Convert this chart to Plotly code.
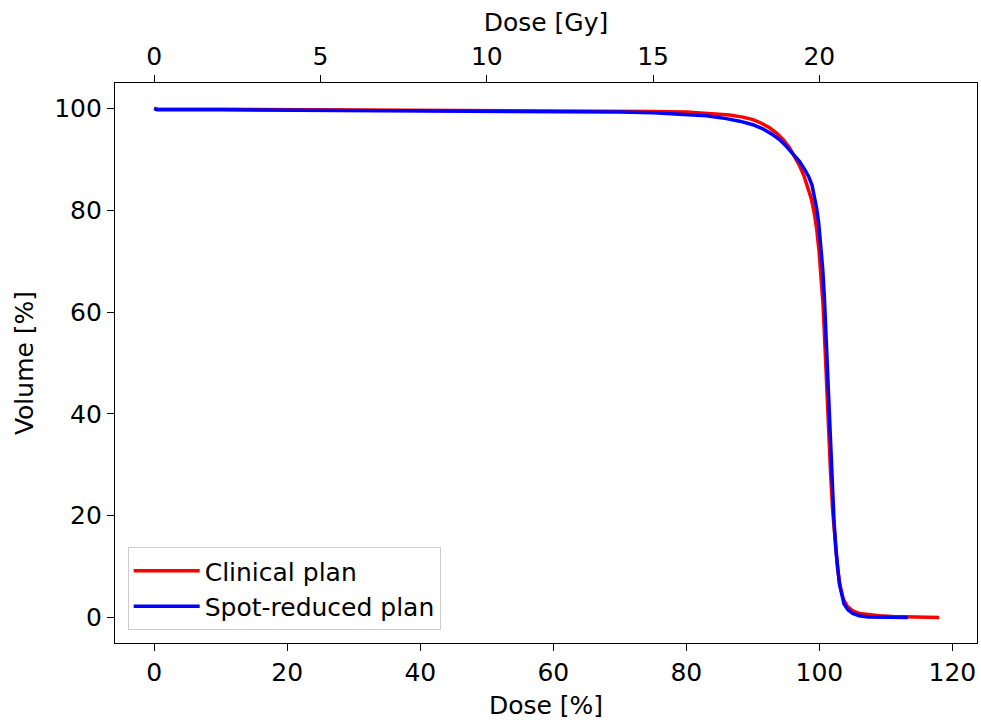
import plotly.graph_objects as go

# Dose-volume histogram data (Dose in % of prescription, Volume in %)
clinical_dose = [0, 0.5, 10, 20, 30, 40, 50, 60, 70, 75, 80, 84, 86.5, 88.5, 90, 91.3, 92.5, 93.6,
                 94.6, 95.5, 96.3, 97.0, 97.7, 98.3, 98.8, 99.2, 99.6, 99.95, 100.25, 100.55,
                 100.85, 101.1, 101.4, 101.7, 102.0, 102.35, 102.75, 103.15, 103.6, 104.2, 105,
                 106, 107.5, 109, 111, 113, 115, 118]
clinical_volume = [100, 99.9, 99.85, 99.8, 99.75, 99.7, 99.65, 99.6, 99.5, 99.4, 99.3, 99.0, 98.7,
                   98.3, 97.8, 97.1, 96.2, 95.1, 93.8, 92.3, 90.6, 88.8, 86.7, 84.5, 82.2, 79.7,
                   76.3, 72, 67.5, 61.5, 53, 45, 36, 28, 21, 14.5, 9.5, 6, 3.6, 2.2, 1.3, 0.8,
                   0.5, 0.35, 0.2, 0.12, 0.06, 0.02]

reduced_dose = [0, 0.4, 10, 20, 30, 40, 50, 60, 70, 75, 80, 83, 86, 88, 90, 91.5, 92.8, 94, 95,
                96, 97, 97.8, 98.4, 98.9, 99.3, 99.6, 99.9, 100.2, 100.5, 100.75, 101.0, 101.3,
                101.6, 101.9, 102.2, 102.5, 103.0, 103.7, 104.3, 105.0, 106.0, 107.3, 109.5,
                111.5, 113.3]
reduced_volume = [100, 99.75, 99.75, 99.7, 99.65, 99.6, 99.55, 99.45, 99.3, 99.15, 98.85, 98.55,
                  98.0, 97.5, 96.8, 96.0, 95.0, 93.9, 92.6, 91.2, 89.6, 88.0, 86.6, 84.9, 82.6,
                  80.3, 77.5, 73.5, 68.5, 63, 55, 45, 35, 26, 19, 13.2, 6.7, 2.7, 1.5, 0.8,
                  0.35, 0.1, 0.04, 0.01, 0.0]

prescription_gy = 20.0  # 100 % corresponds to 20 Gy
x_ticks_pct = [0, 20, 40, 60, 80, 100, 120]
x_ticks_gy = [0, 5, 10, 15, 20]
y_ticks = [0, 20, 40, 60, 80, 100]
x_range_pct = [-5.9, 123.7]
y_range = [-5.0, 105.0]

FONT = "DejaVu Sans"
FS = 25

fig = go.Figure()
fig.add_trace(go.Scatter(x=clinical_dose, y=clinical_volume, mode="lines",
                         name="Clinical plan", line=dict(color="red", width=3.5)))
fig.add_trace(go.Scatter(x=reduced_dose, y=reduced_volume, mode="lines",
                         name="Spot-reduced plan", line=dict(color="blue", width=3.5)))
# invisible trace carrying the Gy axis
fig.add_trace(go.Scatter(x=[d * prescription_gy / 100 for d in clinical_dose], y=clinical_volume,
                         mode="lines", xaxis="x2", line=dict(color="rgba(0,0,0,0)", width=0),
                         showlegend=False, hoverinfo="skip"))

axis_common = dict(showgrid=False, zeroline=False, ticks="outside", ticklen=7, tickwidth=1.3,
                   tickcolor="black", linecolor="black", linewidth=1.3,
                   tickfont=dict(family=FONT, size=FS, color="black"))

fig.update_layout(
    width=981, height=725,
    margin=dict(l=115, r=4, t=83, b=82),
    plot_bgcolor="white", paper_bgcolor="white",
    font=dict(family=FONT, size=FS, color="black"),
    xaxis=dict(range=x_range_pct, tickvals=x_ticks_pct, showline=True, mirror=True,
               title=dict(text="Dose [%]", font=dict(family=FONT, size=FS), standoff=10),
               **axis_common),
    xaxis2=dict(range=[v * prescription_gy / 100 for v in x_range_pct], tickvals=x_ticks_gy,
                overlaying="x", side="top", showline=False,
                title=dict(text="Dose [Gy]", font=dict(family=FONT, size=FS), standoff=3),
                **axis_common),
    yaxis=dict(range=y_range, tickvals=y_ticks, showline=True, mirror=True,
               title=dict(text="Volume [%]", font=dict(family=FONT, size=FS), standoff=13),
               **axis_common),
    legend=dict(x=0.0147, y=0.023, xanchor="left", yanchor="bottom",
                bgcolor="rgba(255,255,255,0.8)", bordercolor="#cccccc", borderwidth=1,
                itemwidth=66,
                font=dict(family=FONT, size=FS, color="black")),
    showlegend=True,
)

fig.write_html("out.html")
